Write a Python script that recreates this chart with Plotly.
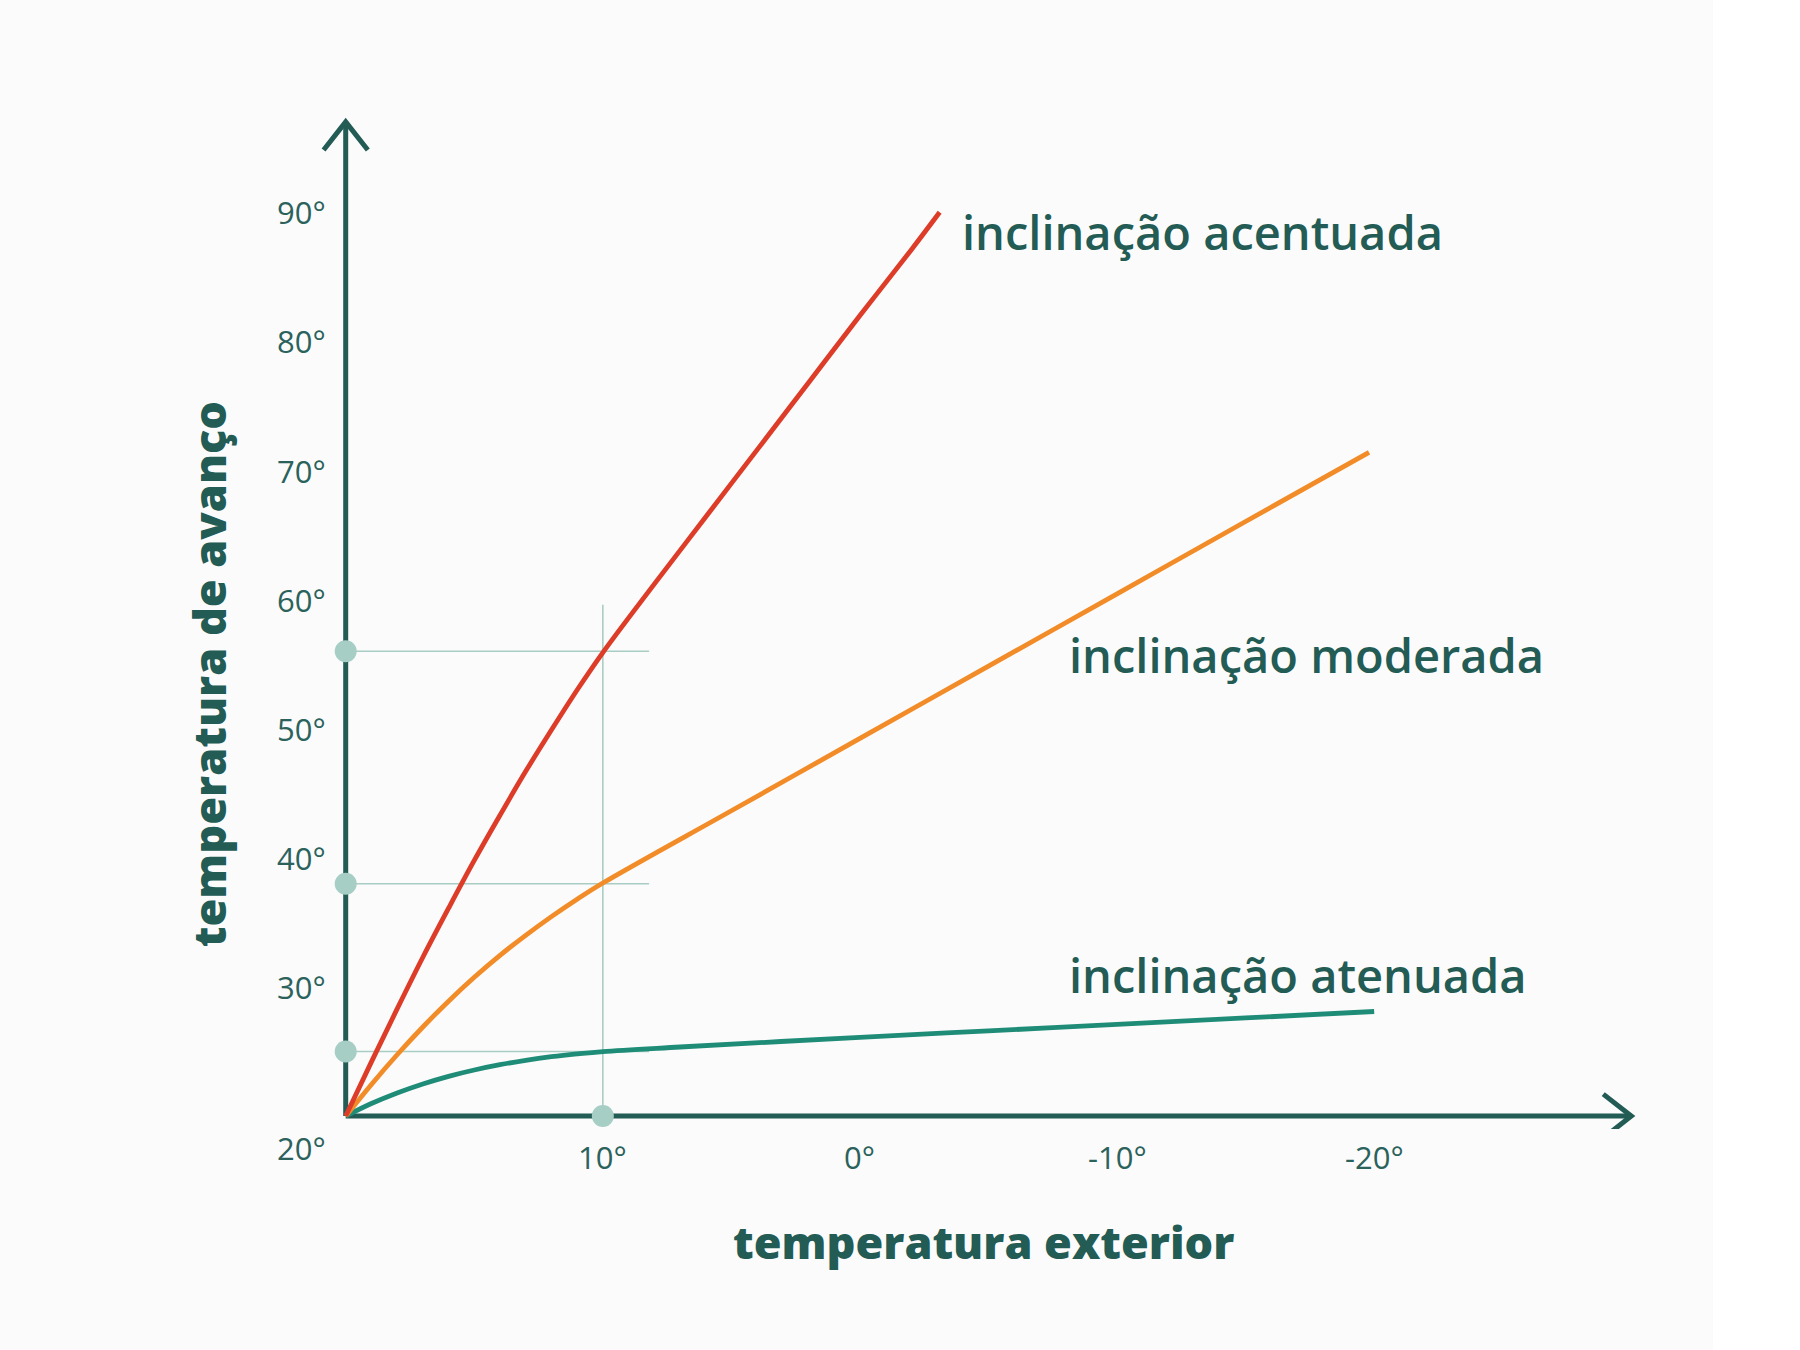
import plotly.graph_objects as go

# ---- data ----
outside_temp = [20, 19, 18, 17, 16, 15, 14, 13, 12, 11, 10, 8, 6, 4, 2, 0, -2, -3.1]
steep_flow = [20, 24.2, 28.3, 32.3, 36.1, 39.8, 43.3, 46.7, 49.9, 53.0, 55.9, 61.2, 66.4, 71.6, 76.8, 82.0, 87.1, 90.0]

moderate_x = [20, 19, 18, 17, 16, 15, 14, 13, 12, 11, 10, 5, 0, -5, -10, -15, -19.8]
moderate_flow = [20, 22.45, 24.75, 26.9, 28.9, 30.75, 32.45, 34.0, 35.45, 36.8, 38.05, 43.65, 49.25, 54.85, 60.45, 66.05, 71.4]

mild_x = [20, 19, 18, 17, 16, 15, 14, 13, 12, 11, 10, 7, 0, -5, -10, -15, -20]
mild_flow = [20, 20.97, 21.79, 22.49, 23.08, 23.57, 23.98, 24.32, 24.6, 24.82, 25.0, 25.35, 26.1, 26.6, 27.1, 27.6, 28.1]

x_tick_vals = [10, 0, -10, -20]
x_tick_text = ["10°", "0°", "-10°", "-20°"]
y_tick_vals = [30, 40, 50, 60, 70, 80, 90]
y_tick_text = ["30°", "40°", "50°", "60°", "70°", "80°", "90°"]
origin_label = "20°"

ref_x = 10
ref_levels = [56, 38, 25]

series_names = ["inclinação acentuada", "inclinação moderada", "inclinação atenuada"]
x_title = "temperatura exterior"
y_title = "temperatura de avanço"

# ---- style ----
DARK = "#235b55"
TICK = "#2b625b"
RED = "#dd3c28"
ORANGE = "#f28c28"
GREEN = "#1f8c78"
REF = "#a9cdc4"
DOT = "#a6cec4"
FONT = "Open Sans"

X0, Y0 = 20, 20          # axes origin
X_END, Y_END = -30, 97   # arrow tips
REF_LINE_END = 8.2
REF_V_TOP = 59.6

fig = go.Figure()

# reference guide lines
for lvl in ref_levels:
    fig.add_trace(go.Scatter(x=[X0, REF_LINE_END], y=[lvl, lvl], mode="lines",
                             line=dict(color=REF, width=1.6), hoverinfo="skip", showlegend=False))
fig.add_trace(go.Scatter(x=[ref_x, ref_x], y=[Y0, REF_V_TOP], mode="lines",
                         line=dict(color=REF, width=1.6), hoverinfo="skip", showlegend=False))

# axes with open arrowheads
ax_w = 5
fig.add_trace(go.Scatter(x=[X0, X_END], y=[Y0, Y0], mode="lines",
                         line=dict(color=DARK, width=ax_w), hoverinfo="skip", showlegend=False, cliponaxis=False))
fig.add_trace(go.Scatter(x=[X0, X0], y=[Y0, Y_END], mode="lines",
                         line=dict(color=DARK, width=ax_w), hoverinfo="skip", showlegend=False, cliponaxis=False))
fig.add_trace(go.Scatter(x=[X_END + 1.09, X_END, X_END + 1.09], y=[Y0 + 1.7, Y0, Y0 - 1.7], mode="lines",
                         line=dict(color=DARK, width=ax_w), hoverinfo="skip", showlegend=False))
fig.add_trace(go.Scatter(x=[X0 + 0.86, X0, X0 - 0.86], y=[Y_END - 2.17, Y_END, Y_END - 2.17], mode="lines",
                         line=dict(color=DARK, width=ax_w), hoverinfo="skip", showlegend=False))

# curves
fig.add_trace(go.Scatter(x=mild_x, y=mild_flow, mode="lines", line=dict(color=GREEN, width=4.8, shape="spline"),
                         name=series_names[2], showlegend=False))
fig.add_trace(go.Scatter(x=moderate_x, y=moderate_flow, mode="lines", line=dict(color=ORANGE, width=4.8, shape="spline"),
                         name=series_names[1], showlegend=False))
fig.add_trace(go.Scatter(x=outside_temp, y=steep_flow, mode="lines", line=dict(color=RED, width=4.8, shape="spline"),
                         name=series_names[0], showlegend=False))

# dots
fig.add_trace(go.Scatter(x=[X0] * len(ref_levels) + [ref_x], y=ref_levels + [Y0], mode="markers",
                         marker=dict(color=DOT, size=22), hoverinfo="skip", showlegend=False, cliponaxis=False))

tick_font = dict(family=FONT, size=31, color=TICK)
ann = []
for v, t in zip(y_tick_vals, y_tick_text):
    ann.append(dict(x=X0, y=v, xref="x", yref="y", text=t, showarrow=False, xanchor="right",
                    yanchor="middle", xshift=-18, font=tick_font))
ann.append(dict(x=X0, y=Y0, xref="x", yref="y", text=origin_label, showarrow=False, xanchor="right",
                yanchor="middle", xshift=-18, yshift=-32, font=tick_font))
for v, t in zip(x_tick_vals, x_tick_text):
    ann.append(dict(x=v, y=Y0, xref="x", yref="y", text=t, showarrow=False, xanchor="center",
                    yanchor="middle", yshift=-41, font=tick_font))

label_font = dict(family=FONT, size=47, color=DARK, weight=600)
ann.append(dict(x=-3.9, y=88.5, xref="x", yref="y", text=series_names[0], showarrow=False,
                xanchor="left", yanchor="middle", font=label_font))
ann.append(dict(x=-8.06, y=55.7, xref="x", yref="y", text=series_names[1], showarrow=False,
                xanchor="left", yanchor="middle", font=label_font))
ann.append(dict(x=-8.06, y=30.9, xref="x", yref="y", text=series_names[2], showarrow=False,
                xanchor="left", yanchor="middle", font=label_font))

title_font = dict(family=FONT, size=45, color=DARK, weight=800)
ann.append(dict(x=-4.8, y=Y0, xref="x", yref="y", text=x_title, showarrow=False,
                xanchor="center", yanchor="middle", yshift=-125, font=title_font))
ann.append(dict(x=X0, y=54.2, xref="x", yref="y", text=y_title, showarrow=False, textangle=-90,
                xanchor="center", yanchor="middle", xshift=-137, font=title_font))

fig.update_layout(
    width=1800, height=1350,
    margin=dict(l=320, r=143, t=109, b=221),
    paper_bgcolor="#ffffff",
    plot_bgcolor="rgba(0,0,0,0)",
    xaxis=dict(range=[21, -31], visible=False, fixedrange=True),
    yaxis=dict(range=[19, 98], visible=False, fixedrange=True),
    annotations=ann,
    shapes=[dict(type="rect", xref="paper", yref="paper", x0=-320 / 1337, x1=(1713 - 320) / 1337,
                 y0=-1.0, y1=2.0, fillcolor="#fbfbfb", line=dict(width=0), layer="below")],
    showlegend=False,
)

fig.write_html("out.html")
